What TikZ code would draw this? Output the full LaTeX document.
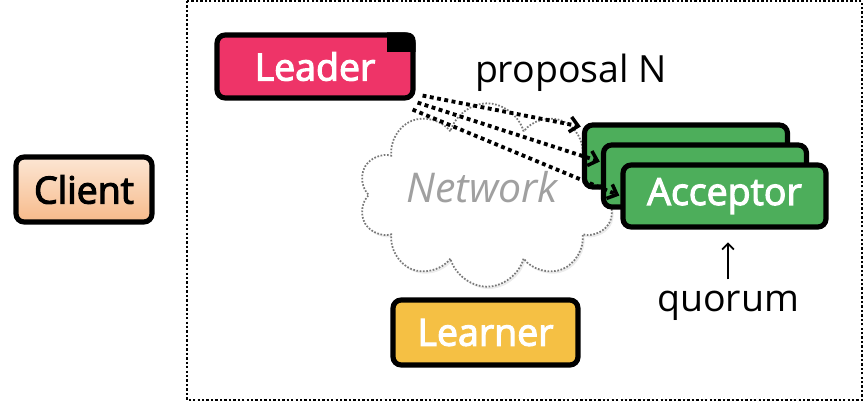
\documentclass[tikz,border=0pt]{standalone}
\usepackage{fontspec}
\setmainfont{Open Sans}
\newfontfamily\rolefont{Open Sans}[FakeBold=3]
\usetikzlibrary{shapes.symbols,shadows,arrows.meta}

\definecolor{leaderpink}{RGB}{238,52,104}
\definecolor{acceptorgreen}{RGB}{77,174,91}
\definecolor{learneryellow}{RGB}{245,192,68}
\definecolor{clienttop}{RGB}{252,230,212}
\definecolor{clientbottom}{RGB}{247,186,138}
\definecolor{netgray}{RGB}{160,160,160}

\begin{document}
\begin{tikzpicture}[x=0.3mm,y=-0.3mm,
    role/.style={draw=black,line width=4.4pt,rounded corners=7pt,inner sep=0pt,
      text=white,font=\fontsize{32}{36}\rolefont,
      drop shadow={shadow xshift=1.5pt,shadow yshift=-1.5pt,opacity=0.35}},
    acceptor/.style={role,fill=acceptorgreen,minimum width=60.9mm,minimum height=18.6mm},
    txt/.style={inner sep=0pt,font=\fontsize{32}{36}\selectfont},
    msg/.style={line width=3.3pt,dash pattern=on 3.3pt off 3pt,shorten >=1pt,
      -{Straight Barb[length=7pt,width=13pt,line width=3pt]}}]
  \useasboundingbox (0,0) rectangle (864,402);

  % frame of the cluster
  \draw[line width=2pt,dash pattern=on 2pt off 1.8pt] (187,1) rectangle (862,400);

  % network cloud
  \node[cloud,cloud puffs=10,cloud ignores aspect,minimum width=77mm,minimum height=55mm,
    draw=netgray!75!black,fill=white,line width=1.5pt,dash pattern=on 1.4pt off 1.4pt,
    drop shadow={shadow xshift=1.5pt,shadow yshift=-2pt,opacity=0.15}] (net) at (487,195) {};
  \node[txt,font=\fontsize{35}{40}\selectfont\itshape,text=netgray] (nettext) at (482,187) {Network};

  % roles
  \node[role,fill=leaderpink,minimum width=58.8mm,minimum height=18.9mm] (leader) at (315,66.5) {Leader};
  \begin{scope}
    \clip[rounded corners=7pt] (leader.south west) rectangle (leader.north east);
    \fill ([shift={(-29,0)}]leader.north east) rectangle ([shift={(0,20)}]leader.north east);
  \end{scope}
  \node[role,top color=clienttop,bottom color=clientbottom,text=black,
    minimum width=40.8mm,minimum height=19.5mm] (client) at (84,189.5) {Client};
  \node[role,fill=learneryellow,minimum width=55.5mm,minimum height=19.5mm] (learner) at (485.5,332.5) {Learner};
  \node[acceptor] (acc1) at (686,156) {};
  \node[acceptor] (acc2) at (705,176) {};
  \node[acceptor] (acc3) at (724.5,196) {Acceptor};

  % proposals
  \draw[msg] ([shift={(7,-5)}]leader.south east) -- ([yshift=25pt]acc1.west);
  \draw[msg] ([shift={(2,2)}]leader.south east) -- ([yshift=12pt]acc2.west);
  \draw[msg] ([shift={(-3,9)}]leader.south east) -- (acc3.west);
  \node[txt] (proposal) at (571,73) {proposal N};

  % quorum
  \node[txt] (quorum) at (728,306) {quorum};
  \draw[line width=1.5pt,-{Straight Barb[length=5pt,width=10pt,line width=1.5pt]},
    shorten <=10pt,shorten >=11pt] (quorum) -- (quorum |- acc3.south);
\end{tikzpicture}
\end{document}
